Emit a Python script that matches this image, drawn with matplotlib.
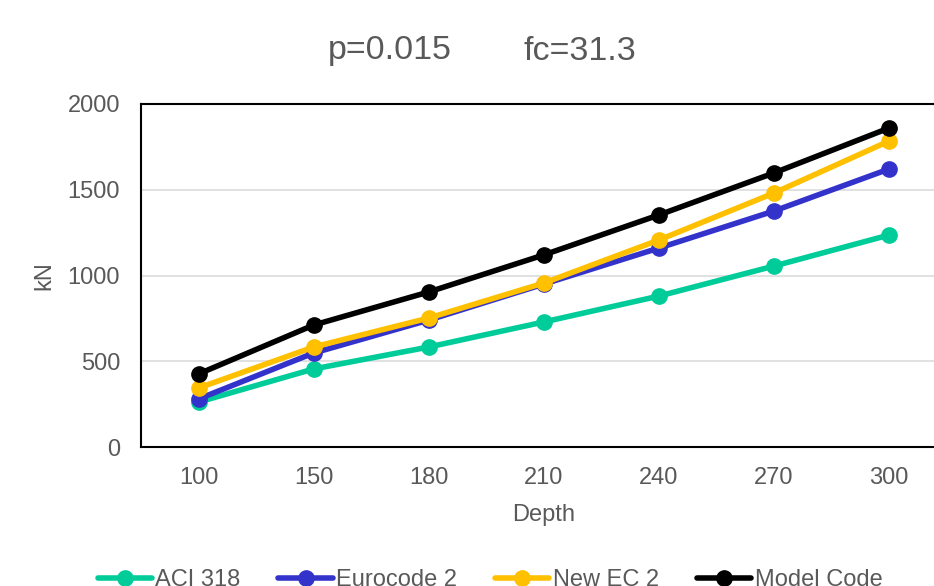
import matplotlib
matplotlib.use("Agg")
import matplotlib.pyplot as plt

depth = ["100", "150", "180", "210", "240", "270", "300"]
aci318 = [262, 455, 583, 729, 880, 1055, 1236]
eurocode2 = [280, 548, 740, 950, 1160, 1376, 1621]
new_ec2 = [344, 583, 752, 956, 1207, 1481, 1784]
model_code = [426, 711, 904, 1120, 1353, 1598, 1860]

series = [("ACI 318", aci318, "#00CC99"),
          ("Eurocode 2", eurocode2, "#3333CC"),
          ("New EC 2", new_ec2, "#FFC000"),
          ("Model Code", model_code, "#000000")]

plt.rcParams['font.family'] = ['Liberation Sans', 'DejaVu Sans']
gray = "#595959"

fig = plt.figure(figsize=(9.34, 5.86), dpi=100)
ax = fig.add_axes([141/934, 1 - 447/586, (946.6 - 141)/934, (447 - 104)/586])

x = list(range(len(depth)))
for name, vals, col in series:
    ax.plot(x, vals, color=col, lw=4, marker='o', markersize=11,
            label=name, solid_capstyle='round', clip_on=False)

ax.set_xlim(-0.5, len(depth) - 0.5)
ax.set_ylim(0, 2000)
ax.set_yticks([0, 500, 1000, 1500, 2000])
ax.set_xticks(x)
ax.set_xticklabels(depth)
ax.yaxis.grid(True, color="#d9d9d9", lw=1.1)
ax.set_axisbelow(True)
for s in ax.spines.values():
    s.set_color("black")
    s.set_linewidth(1.5)
ax.tick_params(axis='both', length=0, labelsize=17, labelcolor=gray)
ax.tick_params(axis='x', pad=14.5)
ax.tick_params(axis='y', pad=15)

ax.set_xlabel("Depth", fontsize=17, color=gray, labelpad=10.5)
ax.set_ylabel("kN", fontsize=17, color=gray, labelpad=9)

fig.text(390/934, 1 - 51/586, "p=0.015", fontsize=24.5,
         color=gray, ha='center', va='center')
fig.text(580/934, 1 - 51/586, "fc=31.3", fontsize=24.5,
         color=gray, ha='center', va='center')

fig.legend(loc='center', bbox_to_anchor=(490/934, 1 - 580/586), ncol=4,
           frameon=False, fontsize=17, labelcolor=gray,
           handlelength=2.3, handletextpad=0.15, columnspacing=1.6)

fig.savefig("out.png", dpi=100)
